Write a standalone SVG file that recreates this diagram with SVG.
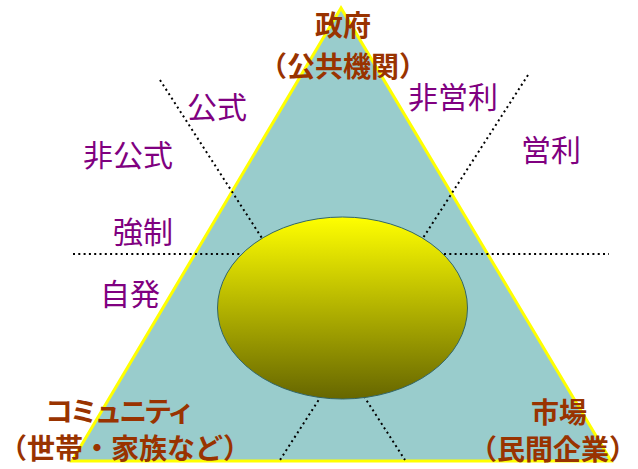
<svg xmlns="http://www.w3.org/2000/svg" width="638" height="469" viewBox="0 0 638 469">
<style>
.dot{stroke:#000;stroke-width:2;fill:none;stroke-dasharray:2 3.3}
.br{font-family:"Noto Sans CJK JP","Noto Sans",sans-serif;font-weight:bold;font-size:28px;fill:#993300;text-anchor:middle}
.pu{font-family:"Noto Sans CJK JP","Noto Sans",sans-serif;font-size:30px;fill:#800080}
</style>
<defs>
<linearGradient id="g" x1="0" y1="0" x2="0" y2="1">
<stop offset="0" stop-color="#FFFF00"/>
<stop offset="1" stop-color="#666600"/>
</linearGradient>
</defs>
<rect width="638" height="469" fill="#fff"/>
<g id="triangle">
<polygon points="341,8 72,461 611,461" fill="#99CCCC" stroke="#FFFF00" stroke-width="3"/>
</g>
<g id="connectors">
<line class="dot" x1="73" y1="254" x2="609" y2="254"/>
<line class="dot" x1="160" y1="80" x2="405" y2="460"/>
<line class="dot" x1="528" y1="75" x2="280" y2="460"/>
</g>
<g id="center">
<ellipse cx="342.5" cy="308" rx="125" ry="91" fill="url(#g)" stroke="#336666" stroke-width="1"/>
</g>
<g id="government">
<text class="br" x="343" y="36">政府</text>
<text class="br" x="343" y="77">（公共機関）</text>
</g>
<g id="community">
<text class="br" x="120" y="422" textLength="150" lengthAdjust="spacing">コミュニティ</text>
<text class="br" x="125" y="459">（世帯・家族など）</text>
</g>
<g id="market">
<text class="br" x="559" y="423">市場</text>
<text class="br" x="553" y="460">（民間企業）</text>
</g>
<g id="labels">
<text class="pu" x="187" y="118">公式</text>
<text class="pu" x="83" y="166">非公式</text>
<text class="pu" x="113" y="243">強制</text>
<text class="pu" x="100" y="305">自発</text>
<text class="pu" x="408" y="108">非営利</text>
<text class="pu" x="521" y="161">営利</text>
</g>
</svg>
